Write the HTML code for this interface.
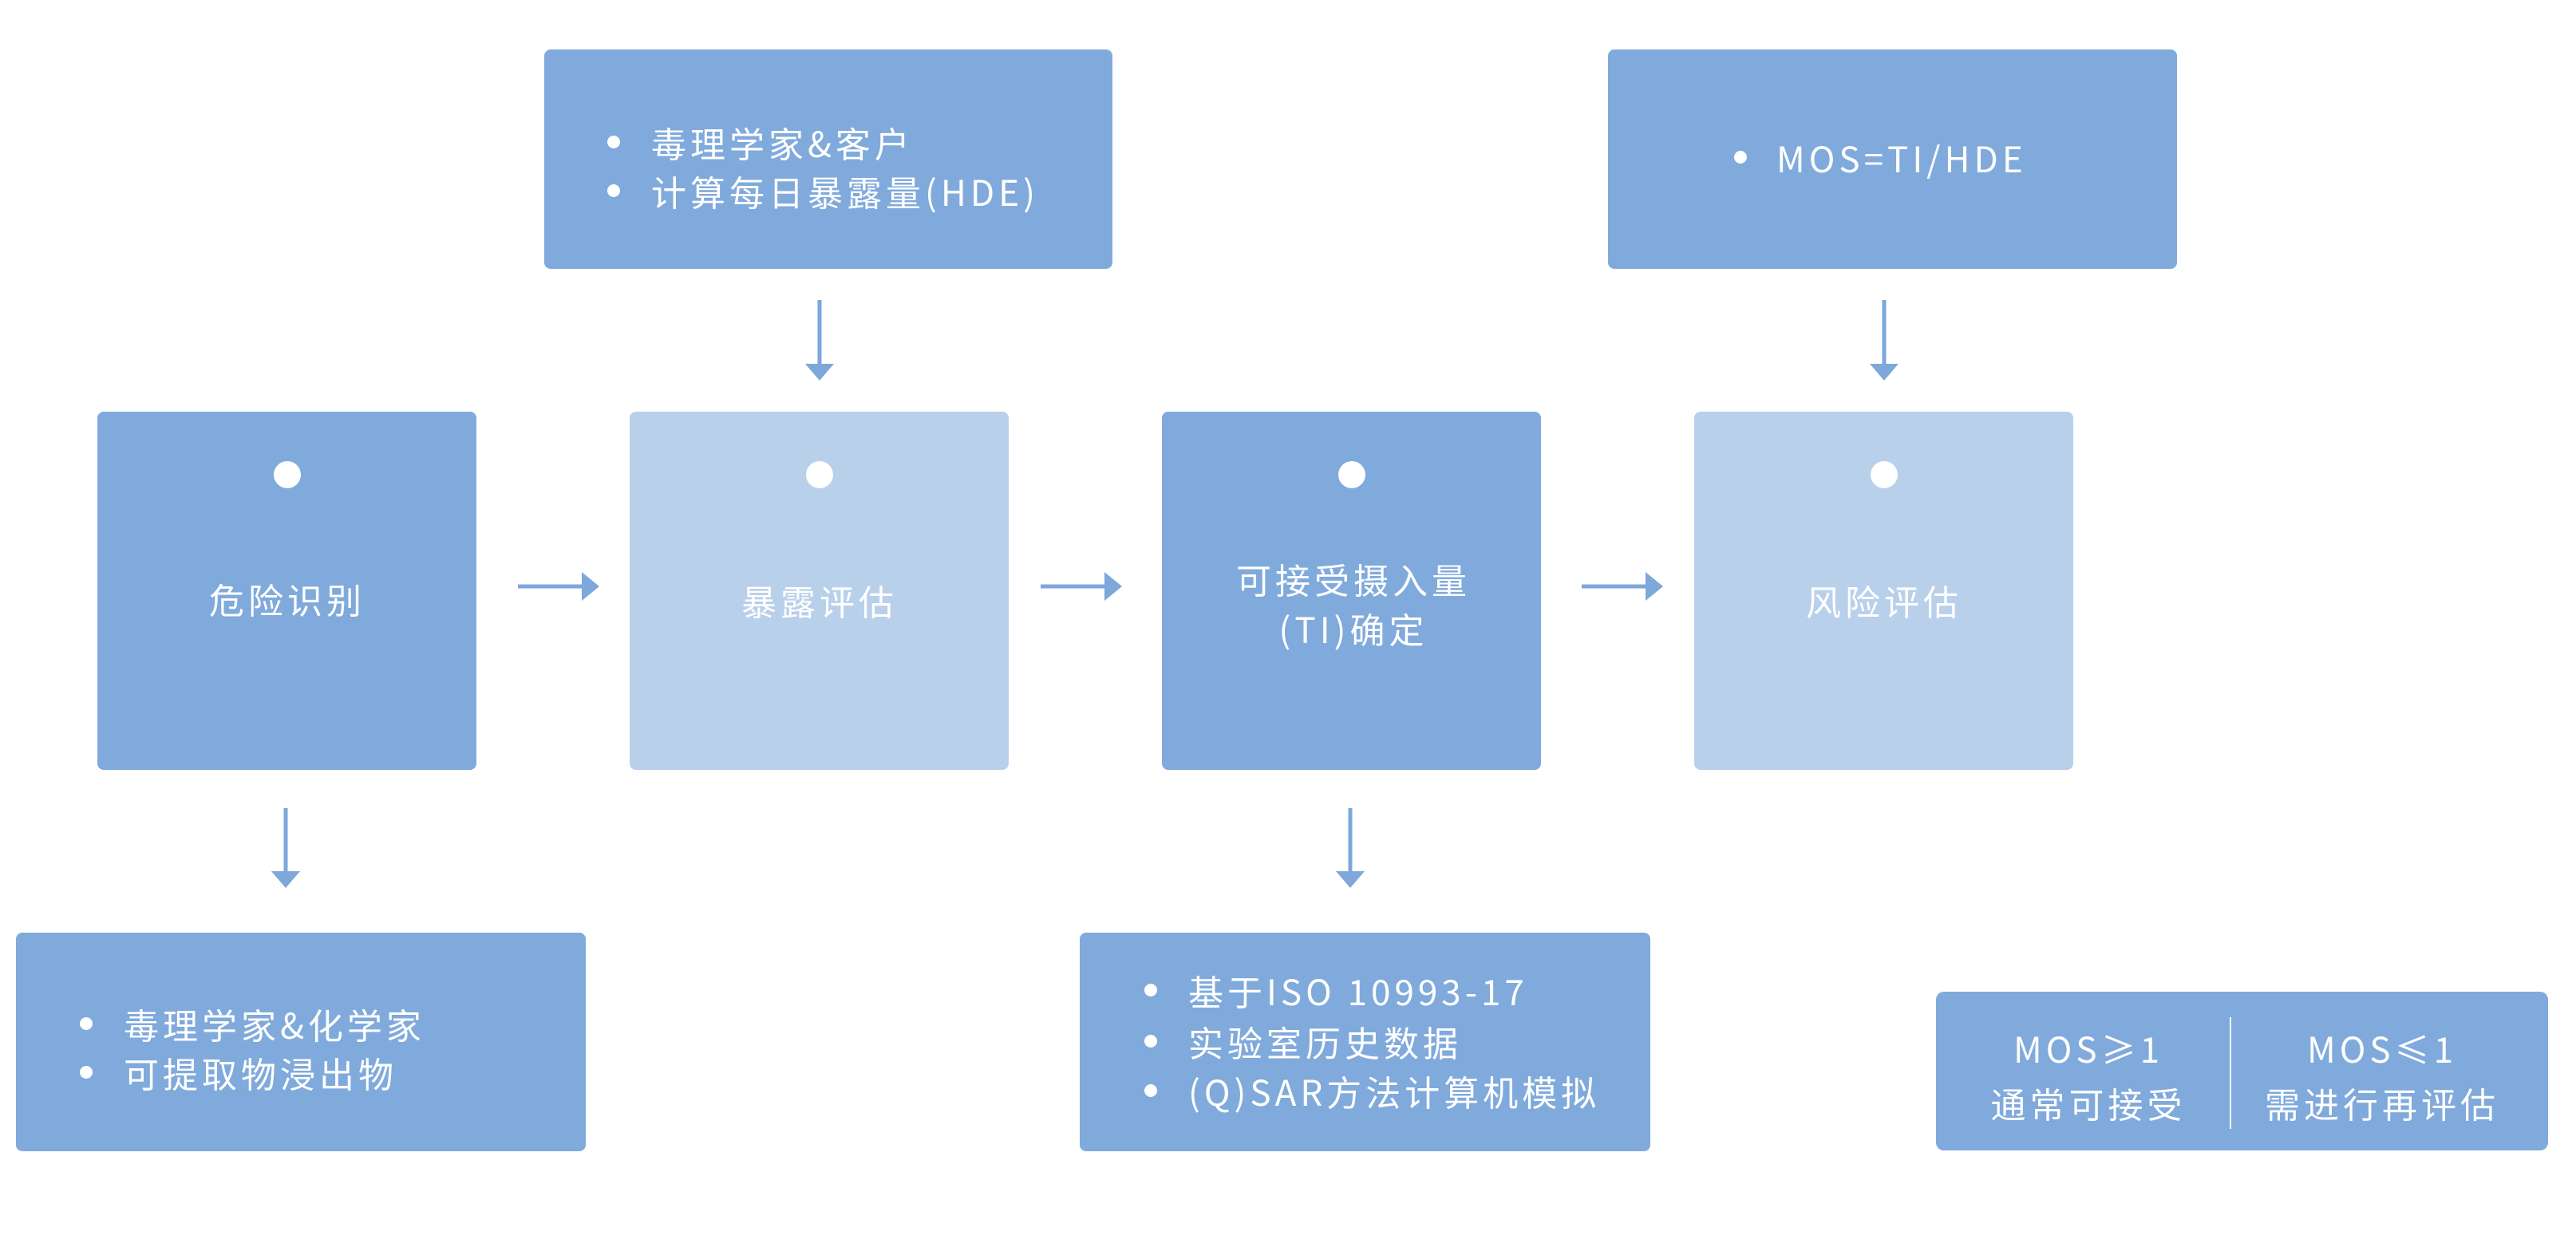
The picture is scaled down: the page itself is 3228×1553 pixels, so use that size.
<!DOCTYPE html>
<html><head><meta charset="utf-8"><style>
html,body{margin:0;padding:0;background:#fff;}
svg text{font-family:"Noto Sans CJK SC","Liberation Sans",sans-serif;fill:#fff;font-size:44px;letter-spacing:5px;}
</style></head><body>
<svg width="3228" height="1548" viewBox="0 0 3228 1548" xmlns="http://www.w3.org/2000/svg">
<g fill="#80aadb">
<rect x="682" y="62" width="712" height="275" rx="8"/>
<rect x="2015" y="62" width="713" height="275" rx="8"/>
<rect x="122" y="516" width="475" height="449" rx="8"/>
<rect x="1456" y="516" width="475" height="449" rx="8"/>
<rect x="20" y="1169" width="714" height="274" rx="8"/>
<rect x="1353" y="1169" width="715" height="274" rx="8"/>
<rect x="2426" y="1243" width="767" height="199" rx="10"/>
</g>
<g fill="#b9d0eb">
<rect x="789" y="516" width="475" height="449" rx="8"/>
<rect x="2123" y="516" width="475" height="449" rx="8"/>
</g>
<g fill="#fff">
<circle cx="360" cy="595" r="17"/>
<circle cx="1027" cy="595" r="17"/>
<circle cx="1694" cy="595" r="17"/>
<circle cx="2361" cy="595" r="17"/>
<circle cx="769" cy="178" r="8"/><circle cx="769" cy="239" r="8"/>
<circle cx="2181" cy="197" r="8"/>
<circle cx="108" cy="1283" r="8"/><circle cx="108" cy="1344" r="8"/>
<circle cx="1442" cy="1241" r="8"/><circle cx="1442" cy="1305" r="8"/><circle cx="1442" cy="1367" r="8"/>
</g>
<line x1="2795" y1="1275" x2="2795" y2="1415" stroke="#fff" stroke-width="2"/>
<g stroke="#7ea7da" stroke-width="5" fill="none">
<line x1="649" y1="735" x2="735" y2="735"/>
<line x1="1304" y1="735" x2="1390" y2="735"/>
<line x1="1982" y1="735" x2="2068" y2="735"/>
<line x1="1027" y1="376" x2="1027" y2="462"/>
<line x1="2361" y1="376" x2="2361" y2="462"/>
<line x1="358" y1="1013" x2="358" y2="1098"/>
<line x1="1692" y1="1013" x2="1692" y2="1098"/>
</g>
<g fill="#7ea7da">
<polygon points="729,717 751,735 729,753"/>
<polygon points="1384,717 1406,735 1384,753"/>
<polygon points="2062,717 2084,735 2062,753"/>
<polygon points="1009,456 1045,456 1027,477"/>
<polygon points="2343,456 2379,456 2361,477"/>
<polygon points="340,1092 376,1092 358,1113"/>
<polygon points="1674,1092 1710,1092 1692,1113"/>
</g>
<g text-anchor="middle" dominant-baseline="central">
<text x="360" y="750">危险识别</text>
<text x="1027" y="752">暴露评估</text>
<text x="1696" y="725">可接受摄入量</text>
<text x="1696" y="787">(TI)确定</text>
<text x="2361" y="752">风险评估</text>
<text x="2617" y="1313">MOS≥1</text>
<text x="2617" y="1382">通常可接受</text>
<text x="2985" y="1313">MOS≤1</text>
<text x="2985" y="1382">需进行再评估</text>
</g>
<g dominant-baseline="central">
<text x="816" y="178">毒理学家&amp;客户</text>
<text x="816" y="239">计算每日暴露量(HDE)</text>
<text x="2226" y="197">MOS=TI/HDE</text>
<text x="155" y="1283">毒理学家&amp;化学家</text>
<text x="155" y="1344">可提取物浸出物</text>
<text x="1489" y="1241">基于ISO 10993-17</text>
<text x="1489" y="1305">实验室历史数据</text>
<text x="1489" y="1367">(Q)SAR方法计算机模拟</text>
</g>
</svg>
</body></html>
